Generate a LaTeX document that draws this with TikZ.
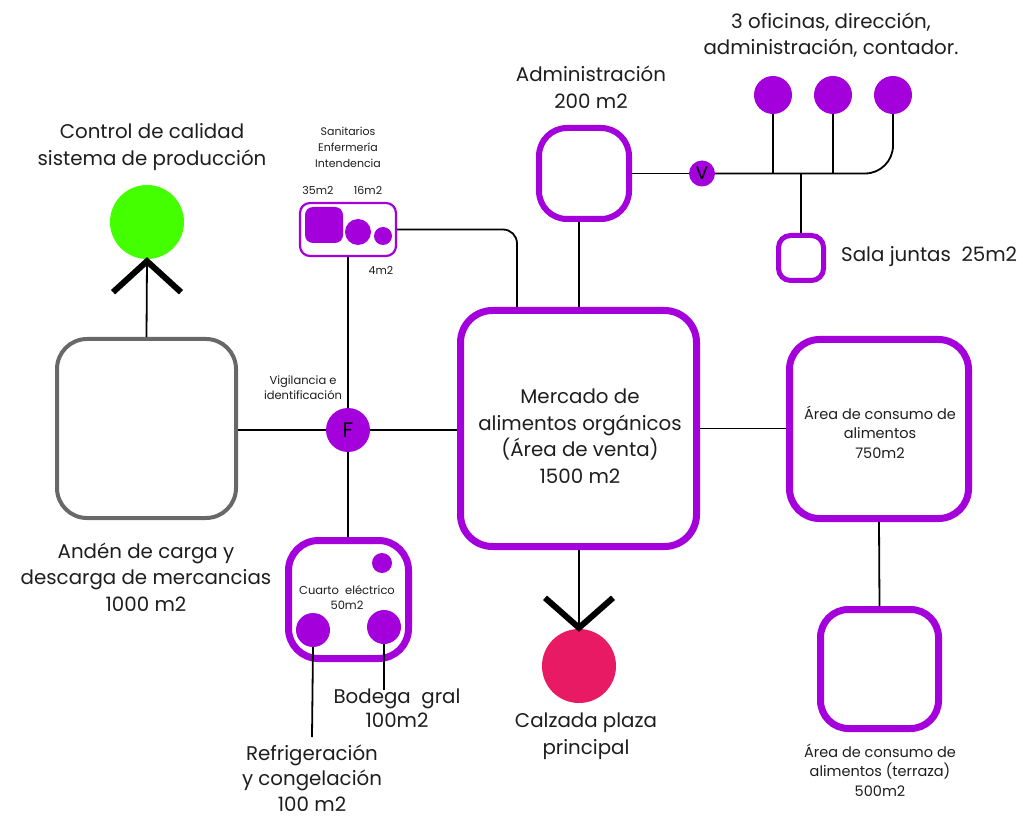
\documentclass[tikz,border=0pt]{standalone}
\usepackage{fontspec}
\setmainfont{Poppins}
\usetikzlibrary{calc}
\definecolor{violeta}{RGB}{163,0,219}
\definecolor{gris}{RGB}{104,104,104}
\definecolor{verde}{RGB}{68,255,0}
\definecolor{rosa}{RGB}{232,26,100}
\definecolor{tinta}{RGB}{30,30,30}
\begin{document}
\begin{tikzpicture}[x=1pt,y=-1pt,
  room/.style={draw=violeta, line width=7pt, rounded corners=30pt, inner sep=0pt, align=center},
  dot/.style={circle, fill=violeta, inner sep=0pt},
  link/.style={line width=1.8pt, draw=black},
  chev/.style={line width=6pt, draw=black, line join=miter, line cap=butt},
  big/.style={font=\fontsize{19.8}{26.5}\selectfont, text=tinta, align=center, inner sep=0pt},
  mid/.style={font=\fontsize{14.5}{19.5}\selectfont, text=tinta, align=center, inner sep=0pt},
  small/.style={font=\fontsize{11}{16}\selectfont, text=tinta, align=center, inner sep=0pt}]
\useasboundingbox[fill=white] (0,0) rectangle (1023,818);

% ---- loading dock and quality control ----
\node[draw=gris, line width=4pt, rounded corners=30pt, minimum width=179pt, minimum height=179pt] (anden) at (146.5,428.5) {};
\node[big] (andenlbl) at (146,577) {Andén de carga y\\descarga de mercancias\\1000 m2};
\node[circle, fill=verde, minimum size=74pt, inner sep=0pt] (qc) at (147,222) {};
\node[big] (qclbl) at (152,147) {Control de calidad\\sistema de producción};
\draw[link] (anden.north) -- (qc.south);
\draw[chev] ($(qc.south)+(-34,33)$) -- ($(qc.south)+(0,2)$) -- ($(qc.south)+(34,33)$);

% ---- access control ----
\node[dot, minimum size=44pt, font=\fontsize{21}{21}\selectfont] (fcirc) at (348,430) {F};
\node[small, font=\fontsize{11.5}{15}\selectfont] (vig) at (303,388) {Vigilancia e\\identificación};

% ---- services ----
\node[draw=violeta, line width=2.2pt, rounded corners=10pt, minimum width=96pt, minimum height=53pt] (san) at (348,229.5) {};
\node[fill=violeta, rounded corners=8pt, minimum width=38pt, minimum height=36pt, inner sep=0pt] (sq) at (324,225) {};
\node[dot, minimum size=26pt] (c16) at (358,232) {};
\node[dot, minimum size=18pt] (c4) at (383,236) {};
\node[small] (sanlbl) at (348,147) {Sanitarios\\Enfermería\\Intendencia};
\node[small] (l35) at (318,190) {35m2};
\node[small] (l16) at (368,190) {16m2};
\node[small] (l4) at (381,270) {4m2};

% ---- electrical room and storage ----
\node[room, minimum width=120pt, minimum height=118pt] (cuarto) at (348.5,599.5) {};
\node[small, font=\fontsize{11.5}{15}\selectfont] (cuartolbl) at (347,598) {Cuarto\ \ eléctrico\\50m2};
\node[dot, minimum size=20pt] (e1) at (382,563) {};
\node[dot, minimum size=34pt] (r1) at (313,630) {};
\node[dot, minimum size=34pt] (b1) at (384,627) {};
\node[big, font=\fontsize{19.8}{24}\selectfont] (bodega) at (397,708) {Bodega\ \ gral\\100m2};
\node[big, font=\fontsize{19.8}{25.5}\selectfont] (refrig) at (312,778) {Refrigeración\\y congelación\\100 m2};
\coordinate (bend) at (384,690);
\coordinate (rend) at (312,737);
\draw[link] (r1.south) -- (rend);
\draw[link] (b1.south) -- (bend);

% ---- main market ----
\node[room, minimum width=236pt, minimum height=236pt, rounded corners=32pt] (mercado) at (578.5,428.5) {};
\node[big] (mercadolbl) at (580,436) {Mercado de\\alimentos orgánicos\\(Área de venta)\\1500 m2};
\node[circle, fill=rosa, minimum size=74pt, inner sep=0pt] (plaza) at (579,666) {};
\node[big] (plazalbl) at (586,736) {Calzada plaza\\principal};
\draw[link] (mercado.south -| plaza) -- (plaza.north);
\draw[chev] ($(plaza.north)+(-34,-31)$) -- ($(plaza.north)+(0,-1)$) -- ($(plaza.north)+(34,-31)$);

% ---- administration ----
\node[draw=violeta, line width=6pt, rounded corners=28pt, minimum width=90pt, minimum height=91pt] (admin) at (584,173.5) {};
\node[big] (adminlbl) at (591,87) {Administración\\200 m2};
\node[dot, minimum size=26pt, font=\fontsize{18}{18}\selectfont] (v) at (702,173.5) {V};
\node[dot, minimum size=38pt] (o1) at (773,95) {};
\node[dot, minimum size=38pt] (o2) at (833,95) {};
\node[dot, minimum size=38pt] (o3) at (893,95) {};
\node[big] (ofilbl) at (831,35) {3 oficinas, dirección,\\administración, contador.};
\node[draw=violeta, line width=5pt, rounded corners=12pt, minimum size=45pt] (sala) at (801,258) {};
\node[big, anchor=west] (salalbl) at (841,257) {Sala juntas\ \ 25m2};

% ---- consumption areas ----
\node[room, minimum width=179pt, minimum height=179pt] (consumo) at (879,429) {};
\node[mid] (consumolbl) at (880,432) {Área de consumo de\\alimentos\\750m2};
\node[room, minimum width=118pt, minimum height=119pt, rounded corners=28pt] (terraza) at (879.5,669) {};
\node[mid] (terrazalbl) at (880,770) {Área de consumo de\\alimentos (terraza)\\500m2};

% ---- connectors ----
\coordinate (am) at (579,0);
\coordinate (mk) at (517,0);
\draw[link] (anden.east |- fcirc) -- (fcirc.west);
\draw[link] (fcirc.east) -- (mercado.west |- fcirc);
\draw[link] (san.south) -- (fcirc.north);
\draw[link] (fcirc.south) -- (cuarto.north -| fcirc);
\draw[link, rounded corners=14pt] (san.east) -- (san.east -| mk) -- (mercado.north -| mk);
\draw[link] (admin.south -| am) -- (mercado.north -| am);
\draw[link] (admin.east) -- (v.west);
\draw[link, rounded corners=28pt] (v.east) -- (o3.south |- v.east) -- (o3.south);
\draw[link] (o1.south) -- (o1.south |- v.east);
\draw[link] (o2.south) -- (o2.south |- v.east);
\draw[link] (sala.north) -- (sala.north |- v.east);
\draw[link] (mercado.east) -- (consumo.west |- mercado.east);
\draw[link] (consumo.south) -- (terraza.north);
\end{tikzpicture}
\end{document}
